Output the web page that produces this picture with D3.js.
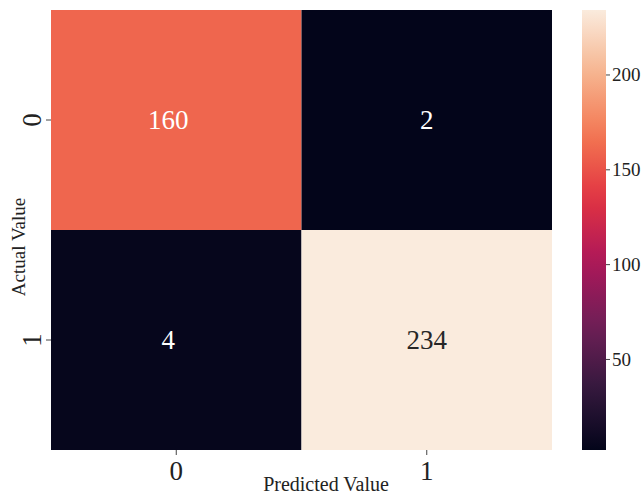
<!DOCTYPE html>
<html>
<head>
<meta charset="utf-8">
<script src="https://cdn.jsdelivr.net/npm/d3@7"></script>
<style>
  body { margin: 0; background: #fff; }
  svg { display: block; font-family: "Liberation Serif", "Times New Roman", serif; }
</style>
</head>
<body>
<svg id="chart" width="643" height="494"></svg>
<script>
// confusion matrix values
const actualLabels = ["0", "1"];
const predictedLabels = ["0", "1"];
const matrix = [
  [160, 2],
  [4, 234]
];
const colorbarTicks = [50, 100, 150, 200];

// seaborn "rocket" colormap stops
const rocketStops = ["#03051a", "#35193e", "#701f57", "#ad1759", "#e13342", "#f37651", "#f6b48f", "#faebdd"];
const rocketPos = [0, 1/7, 2/7, 3/7, 4/7, 5/7, 6/7, 1];

const svg = d3.select("#chart");
const mLeft = 51, mTop = 10, mRight = 552, mBottom = 450;

const cells = [];
matrix.forEach((row, i) => row.forEach((v, j) => cells.push({ i, j, v })));
const vmin = d3.min(cells, d => d.v), vmax = d3.max(cells, d => d.v);

const rocket = d3.scaleLinear().domain(rocketPos).range(rocketStops).interpolate(d3.interpolateRgb);
const color = v => rocket((v - vmin) / (vmax - vmin));

const x = d3.scaleBand().domain(predictedLabels).range([mLeft, mRight]);
const y = d3.scaleBand().domain(actualLabels).range([mTop, mBottom]);

svg.selectAll("rect.cell")
  .data(cells)
  .enter()
  .append("rect")
  .attr("class", "cell")
  .attr("x", d => x(predictedLabels[d.j]))
  .attr("y", d => y(actualLabels[d.i]))
  .attr("width", x.bandwidth())
  .attr("height", y.bandwidth())
  .attr("fill", d => color(d.v));

svg.selectAll("text.annot")
  .data(cells)
  .enter()
  .append("text")
  .attr("class", "annot")
  .attr("x", d => x(predictedLabels[d.j]) + x.bandwidth() / 2 - (d.j === 0 ? 8 : 0))
  .attr("y", d => y(actualLabels[d.i]) + y.bandwidth() / 2)
  .attr("dy", "0.35em")
  .attr("text-anchor", "middle")
  .attr("font-size", 27)
  .attr("fill", d => (d.v - vmin) / (vmax - vmin) > 0.75 ? "#262626" : "#ffffff")
  .text(d => d.v);

// axes
const xAxis = svg.append("g")
  .attr("transform", `translate(0,${mBottom})`)
  .call(d3.axisBottom(x).tickSize(5).tickPadding(6));
xAxis.select(".domain").remove();
xAxis.selectAll("line").attr("stroke", "#444");
xAxis.selectAll("text").attr("font-size", 27).attr("fill", "#222").attr("font-family", "Liberation Serif");

const yAxis = svg.append("g")
  .attr("transform", `translate(${mLeft},0)`)
  .call(d3.axisLeft(y).tickSize(5).tickPadding(6));
yAxis.select(".domain").remove();
yAxis.selectAll("line").attr("stroke", "#444");
yAxis.selectAll("text")
  .attr("font-size", 27).attr("fill", "#222").attr("font-family", "Liberation Serif")
  .attr("text-anchor", "middle")
  .attr("transform", "rotate(-90)")
  .attr("x", 0).attr("dy", 0)
  .attr("y", -10);

svg.append("text")
  .attr("x", 326).attr("y", 491)
  .attr("text-anchor", "middle")
  .attr("font-size", 20)
  .attr("fill", "#222")
  .text("Predicted Value");

svg.append("text")
  .attr("transform", "translate(25,247) rotate(-90)")
  .attr("text-anchor", "middle")
  .attr("font-size", 19)
  .attr("fill", "#222")
  .text("Actual Value");

// colorbar
const cbX = 582, cbW = 24;
const cb = d3.scaleLinear().domain([vmin, vmax]).range([mBottom, mTop]);
const defs = svg.append("defs");
const grad = defs.append("linearGradient")
  .attr("id", "rocket").attr("x1", 0).attr("y1", 1).attr("x2", 0).attr("y2", 0);
d3.range(0, 1.0001, 0.05).forEach(t => {
  grad.append("stop").attr("offset", t).attr("stop-color", rocket(t));
});
svg.append("rect")
  .attr("x", cbX).attr("y", mTop)
  .attr("width", cbW).attr("height", mBottom - mTop)
  .attr("fill", "url(#rocket)");

const cAxis = svg.append("g")
  .attr("transform", `translate(${cbX + cbW},0)`)
  .call(d3.axisRight(cb).tickValues(colorbarTicks).tickSize(4).tickPadding(2));
cAxis.select(".domain").remove();
cAxis.selectAll("line").attr("stroke", "#444");
cAxis.selectAll("text").attr("font-size", 19).attr("fill", "#222").attr("font-family", "Liberation Serif");
</script>
</body>
</html>
